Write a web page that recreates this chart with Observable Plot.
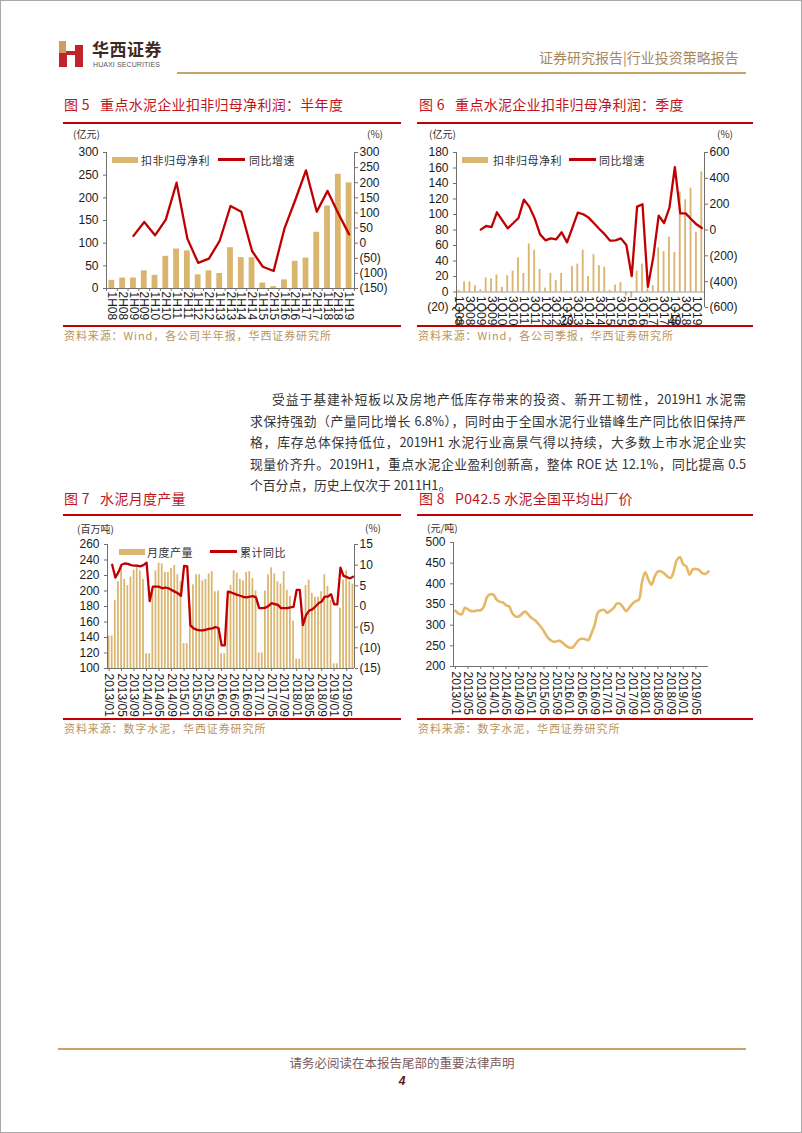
<!DOCTYPE html>
<html><head><meta charset="utf-8">
<script src="https://cdn.jsdelivr.net/npm/d3@7"></script>
<script src="https://cdn.jsdelivr.net/npm/@observablehq/plot@0.6"></script>
<style>
html,body{margin:0;padding:0;background:#fff;}
#page{position:relative;width:802px;height:1133px;overflow:hidden;font-family:"Noto Sans CJK SC","Noto Sans",sans-serif;box-sizing:border-box;border:1px solid #a8a8a8;}
.abs{position:absolute;white-space:nowrap;line-height:1;}
.title{color:#c0141c;font-size:14px;letter-spacing:0.3px;}
.rrule{position:absolute;height:2px;background:#c00000;}
.src{color:#b99460;font-size:11px;letter-spacing:0.9px;}
.unit{font-size:10px;color:#333;}
.leg{font-size:11px;color:#333;letter-spacing:0.5px;}
.chart{position:absolute;}
.para{position:absolute;left:249px;width:496px;font-size:12.8px;color:#333;line-height:16px;text-align:justify;text-align-last:justify;white-space:nowrap;}
.swb{position:absolute;height:6px;width:26px;background:#d9b56f;}
.swl{position:absolute;height:3px;width:27px;background:#c00000;}
</style></head>
<body>
<div id="page">
  <!-- header -->
  <svg class="abs" style="left:57px;top:38px" width="28" height="30">
    <rect x="1" y="2" width="7" height="12" fill="#c9a062"/>
    <rect x="1" y="14" width="8" height="14" fill="#c0232b"/>
    <rect x="8" y="12" width="10" height="4" fill="#c0232b"/>
    <rect x="17" y="6" width="8" height="22" fill="#c0232b"/>
  </svg>
  <div class="abs" style="left:91px;top:39px;font-size:17px;font-weight:700;color:#3d2a22;letter-spacing:0.5px">华西证券</div>
  <div class="abs" style="left:92px;top:60px;font-size:7px;color:#555;letter-spacing:0.1px;font-family:'Liberation Sans',Arial,sans-serif">HUAXI SECURITIES</div>
  <div class="abs" style="left:538px;top:49px;font-size:14px;color:#a8875a">证券研究报告|行业投资策略报告</div>
  <div class="abs" style="left:176px;top:71px;width:569px;height:2px;background:#c9a26a"></div>

  <!-- chart 5 -->
  <div class="abs title" style="left:63px;top:96px">图 5 &nbsp;&nbsp;重点水泥企业扣非归母净利润：半年度</div>
  <div class="rrule" style="left:62px;top:121px;width:338px"></div>
  <div class="abs unit" style="left:72px;top:128px">(亿元)</div>
  <div class="abs unit" style="left:366px;top:128px">(%)</div>
  <div id="c5" class="chart" style="left:55px;top:140px"></div>
  <div class="swb" style="left:111px;top:156px"></div>
  <div class="abs leg" style="left:140px;top:154px">扣非归母净利</div>
  <div class="swl" style="left:217px;top:157px"></div>
  <div class="abs leg" style="left:248px;top:154px">同比增速</div>
  <div class="rrule" style="left:62px;top:324px;width:338px"></div>
  <div class="abs src" style="left:63px;top:329px">资料来源：Wind，各公司半年报，华西证券研究所</div>

  <!-- chart 6 -->
  <div class="abs title" style="left:418px;top:96px">图 6 &nbsp;&nbsp;重点水泥企业扣非归母净利润：季度</div>
  <div class="rrule" style="left:416px;top:121px;width:336px"></div>
  <div class="abs unit" style="left:428px;top:128px">(亿元)</div>
  <div class="abs unit" style="left:716px;top:128px">(%)</div>
  <div id="c6" class="chart" style="left:410px;top:140px"></div>
  <div class="swb" style="left:461px;top:156px"></div>
  <div class="abs leg" style="left:492px;top:154px">扣非归母净利</div>
  <div class="swl" style="left:568px;top:157px"></div>
  <div class="abs leg" style="left:598px;top:154px">同比增速</div>
  <div class="rrule" style="left:416px;top:324px;width:336px"></div>
  <div class="abs src" style="left:417px;top:329px">资料来源：Wind，各公司季报，华西证券研究所</div>

  <!-- paragraph -->
  <div class="para" style="top:390px;text-indent:22px">受益于基建补短板以及房地产低库存带来的投资、新开工韧性，2019H1 水泥需</div>
  <div class="para" style="top:412px">求保持强劲（产量同比增长 6.8%），同时由于全国水泥行业错峰生产同比依旧保持严</div>
  <div class="para" style="top:433px">格，库存总体保持低位，2019H1 水泥行业高景气得以持续，大多数上市水泥企业实</div>
  <div class="para" style="top:455px">现量价齐升。2019H1，重点水泥企业盈利创新高，整体 ROE 达 12.1%，同比提高 0.5</div>
  <div class="para" style="top:476px;text-align:left;text-align-last:left">个百分点，历史上仅次于 2011H1。</div>

  <!-- chart 7 -->
  <div class="abs title" style="left:63px;top:490px">图 7 &nbsp;&nbsp;水泥月度产量</div>
  <div class="rrule" style="left:62px;top:513px;width:338px"></div>
  <div class="abs unit" style="left:76px;top:523px">(百万吨)</div>
  <div class="abs unit" style="left:364px;top:522px">(%)</div>
  <div id="c7" class="chart" style="left:55px;top:530px"></div>
  <div class="swb" style="left:118px;top:548px"></div>
  <div class="abs leg" style="left:146px;top:546px">月度产量</div>
  <div class="swl" style="left:209px;top:549px"></div>
  <div class="abs leg" style="left:239px;top:546px">累计同比</div>
  <div class="rrule" style="left:62px;top:717px;width:338px"></div>
  <div class="abs src" style="left:63px;top:722px">资料来源：数字水泥，华西证券研究所</div>

  <!-- chart 8 -->
  <div class="abs title" style="left:418px;top:490px">图 8 &nbsp;&nbsp;P042.5 水泥全国平均出厂价</div>
  <div class="rrule" style="left:416px;top:513px;width:336px"></div>
  <div class="abs unit" style="left:426px;top:522px">(元/吨)</div>
  <div id="c8" class="chart" style="left:410px;top:530px"></div>
  <div class="rrule" style="left:416px;top:717px;width:336px"></div>
  <div class="abs src" style="left:417px;top:722px">资料来源：数字水泥，华西证券研究所</div>

  <!-- footer -->
  <div class="abs" style="left:57px;top:1047px;width:688px;height:2px;background:#c9a26a"></div>
  <div class="abs" style="left:0;width:802px;top:1056px;text-align:center;font-size:12.5px;color:#7d5a5a">请务必阅读在本报告尾部的重要法律声明</div>
  <div class="abs" style="left:0;width:802px;top:1074px;text-align:center;font-size:12px;font-weight:700;font-style:italic;color:#5a1515;font-family:'Liberation Sans',Arial,sans-serif">4</div>
</div>

<script>
// ---------------- data ----------------
const halfCats = ["1H08","2H08","1H09","2H09","1H10","2H10","1H11","2H11","1H12","2H12","1H13","2H13","1H14","2H14","1H15","2H15","1H16","2H16","1H17","2H17","1H18","2H18","1H19"];
const halfProfit = [18,23,23,39,29,71,87,83,30,39,33,90,68,68,12,4,19,60,67,124,182,252,233];
const halfYoY = [null,null,24,70,26,78,200,15,-65,-51,8,123,104,-26,-78,-92,48,142,241,104,173,98,29];
const halfLeftTicks = [0,50,100,150,200,250,300];
const halfRightTicks = [-150,-100,-50,0,50,100,150,200,250,300];

const quarterCats = ["1Q08","2Q08","3Q08","4Q08","1Q09","2Q09","3Q09","4Q09","1Q10","2Q10","3Q10","4Q10",
  "1Q11","2Q11","3Q11","4Q11","1Q12","2Q12","3Q12","4Q12","1Q13","2Q13","3Q13","4Q13",
  "1Q14","2Q14","3Q14","4Q14","1Q15","2Q15","3Q15","4Q15","1Q16","2Q16","3Q16","4Q16",
  "1Q17","2Q17","3Q17","4Q17","1Q18","2Q18","3Q18","4Q18","1Q19","2Q19"];
const quarterProfit = [2,13,13,8, 3,18,17,22, 6,21,27,44, 24,62,54,29, 5,24,15,24, 1,33,36,54,
  20,48,34,32, 2,9,12,-5, -8,27,36,4, 8,57,52,71, 51,129,119,134, 77,155];
const quarterYoY = [null,null,null,null, 3,31,23,137, 75,13,52,93, 235,181,90,-34, -80,-65,-72,-18, -96,18,134,122,
  96,52,8,-34, -83,-80,-65,-116, -357,181,199,-440, -210,111,54,173, 486,129,129,85, 44,15];
const quarterTickLabels = ["1Q08","3Q08","1Q09","3Q09","1Q10","3Q10","1Q11","3Q11","1Q12","3Q12","1Q13","3Q13",
  "1Q14","3Q14","1Q15","3Q15","1Q16","3Q16","1Q17","3Q17","1Q18","3Q18","1Q19"];
const quarterLeftTicks = [-20,0,20,40,60,80,100,120,140,160,180];
const quarterRightTicks = [-600,-400,-200,0,200,400,600];

const monthCats = [];
for (let yr = 2013; yr <= 2019; yr++) for (let m = 1; m <= 12; m++) monthCats.push(yr + "/" + String(m).padStart(2, "0"));
const monthTickLabels = ["2013/01","2013/05","2013/09","2014/01","2014/05","2014/09","2015/01","2015/05","2015/09",
  "2016/01","2016/05","2016/09","2017/01","2017/05","2017/09","2018/01","2018/05","2018/09","2019/01","2019/05"];

const cementOutput = [
  142,142,188,212,229,215,207,218,227,232,226,215,
  119,119,200,226,236,235,224,224,229,233,221,212,
  132,132,180,208,221,221,213,215,222,225,199,200,
  119,119,190,207,226,223,215,213,224,225,216,200,
  120,120,200,221,230,222,212,209,225,201,193,161,
  112,112,172,207,214,197,192,192,199,221,206,188,
  106,106,178,214,226,212,209];
const cementCumYoY = [
  null,10.1,7.0,8.3,10.1,10.4,10.3,10.0,9.9,9.9,9.7,10.0,
  10.6,1.3,4.8,4.8,4.8,4.4,4.6,4.4,4.0,3.6,3.2,2.6,
  9.8,9.7,-4.5,-5.3,-5.6,-5.8,-5.8,-5.6,-5.4,-5.3,-5.0,-5.2,
  -9.4,-9.4,3.6,3.4,3.1,2.8,2.6,2.3,2.2,2.4,2.5,2.2,
  -0.4,-0.4,-0.3,0.1,0.8,0.6,0.4,-0.4,-0.4,-0.4,-0.2,-0.1,
  4.0,4.0,-4.5,-2.1,-1.0,-0.7,0.0,0.8,1.2,2.4,2.4,3.0,
  0.5,0.5,9.4,7.4,7.1,6.8,7.2];
const outputLeftTicks = [100,120,140,160,180,200,220,240,260];
const outputRightTicks = [-15,-10,-5,0,5,10,15];

const cementPrice = [
  335,328,326,342,338,334,334,336,336,345,368,375,
  374,362,357,355,348,345,329,321,321,327,333,326,
  318,313,305,296,285,272,264,260,261,262,257,250,
  246,246,255,264,267,266,264,280,300,330,336,337,
  330,335,341,352,352,343,334,343,352,358,362,405,
  428,410,398,418,430,430,425,418,414,430,458,464,
  447,442,422,435,436,434,426,424,430];
const priceTicks = [200,250,300,350,400,450,500];

// ---------------- styles ----------------
const barColor = "#d9b56f";
const lineColor = "#c00000";
const priceColor = "#e6b866";
const axisColor = "#707070";
const plotStyle = {fontFamily: "'Liberation Sans', Arial, sans-serif", fontSize: "12px", color: "#1a1a1a", background: "transparent", overflow: "visible"};
const paren = v => v < 0 ? "(" + Math.abs(v) + ")" : String(v);

// ---------------- chart 5 ----------------
{
  const n = halfCats.length;
  const data = halfCats.map((c, i) => ({i, c, v: halfProfit[i], r: halfYoY[i]}));
  const [l0, l1] = [halfLeftTicks[0], halfLeftTicks[halfLeftTicks.length - 1]];
  const [r0, r1] = [halfRightTicks[0], halfRightTicks[halfRightTicks.length - 1]];
  const fwd = r => l0 + (r - r0) * (l1 - l0) / (r1 - r0);
  const inv = y => r0 + (y - l0) * (r1 - r0) / (l1 - l0);
  const chart = Plot.plot({
    width: 345, height: 190, marginLeft: 50, marginRight: 47, marginTop: 11, marginBottom: 43,
    style: plotStyle,
    x: {domain: [-0.5, n - 0.5], label: null},
    y: {domain: [l0, l1], label: null},
    marks: [
      Plot.rectY(data, {x1: d => d.i - 0.27, x2: d => d.i + 0.27, y: "v", fill: barColor}),
      Plot.line(data.filter(d => d.r != null), {x: "i", y: d => fwd(d.r), stroke: lineColor, strokeWidth: 2.3}),
      Plot.ruleX([-0.5], {stroke: axisColor}),
      Plot.ruleX([n - 0.5], {stroke: axisColor}),
      Plot.ruleY([l0], {stroke: axisColor}),
      Plot.axisY({ticks: halfLeftTicks, anchor: "left", tickSize: 3, tickPadding: 5, tickFormat: paren, label: null, stroke: axisColor}),
      Plot.axisY({ticks: halfRightTicks.map(fwd), anchor: "right", tickSize: 3, tickPadding: 2, tickFormat: y => paren(Math.round(inv(y))), label: null, stroke: axisColor}),
      Plot.axisX({ticks: data.map(d => d.i), anchor: "bottom", tickRotate: 90, tickSize: 0, tickPadding: 3, tickFormat: i => halfCats[i], label: null}),
      Plot.axisX({ticks: d3.range(n + 1).map(k => k - 0.5), anchor: "bottom", tickSize: 3, tickFormat: () => "", label: null, stroke: axisColor})
    ]
  });
  document.getElementById("c5").append(chart);
}

// ---------------- chart 6 ----------------
{
  const n = quarterCats.length;
  const data = quarterCats.map((c, i) => ({i, c, v: quarterProfit[i], r: quarterYoY[i]}));
  const [l0, l1] = [quarterLeftTicks[0], quarterLeftTicks[quarterLeftTicks.length - 1]];
  const [r0, r1] = [quarterRightTicks[0], quarterRightTicks[quarterRightTicks.length - 1]];
  const fwd = r => l0 + (r - r0) * (l1 - l0) / (r1 - r0);
  const inv = y => r0 + (y - l0) * (r1 - r0) / (l1 - l0);
  const tickIdx = quarterTickLabels.map(t => quarterCats.indexOf(t));
  const chart = Plot.plot({
    width: 345, height: 190, marginLeft: 45, marginRight: 52, marginTop: 11, marginBottom: 24,
    style: plotStyle,
    x: {domain: [-0.5, n - 0.5], label: null},
    y: {domain: [l0, l1], label: null},
    marks: [
      Plot.rectY(data, {x1: d => d.i - 0.17, x2: d => d.i + 0.17, y: "v", fill: barColor}),
      Plot.ruleY([0], {stroke: "#999"}),
      Plot.line(data.filter(d => d.r != null), {x: "i", y: d => fwd(d.r), stroke: lineColor, strokeWidth: 2.3}),
      Plot.ruleX([-0.5], {stroke: axisColor}),
      Plot.ruleX([n - 0.5], {stroke: axisColor}),
      Plot.axisY({ticks: quarterLeftTicks, anchor: "left", tickSize: 3, tickPadding: 5, tickFormat: paren, label: null, stroke: axisColor}),
      Plot.axisY({ticks: quarterRightTicks.map(fwd), anchor: "right", tickSize: 3, tickPadding: 2, tickFormat: y => paren(Math.round(inv(y))), label: null, stroke: axisColor}),
      Plot.text(tickIdx, {x: d => d, y: 0, text: d => quarterCats[d], rotate: 90, textAnchor: "start", dy: 4, fill: "#1a1a1a", fontSize: 12})
    ]
  });
  document.getElementById("c6").append(chart);
}

// ---------------- chart 7 ----------------
{
  const n = cementOutput.length;
  const data = cementOutput.map((v, i) => ({i, c: monthCats[i], v, r: cementCumYoY[i]}));
  const [l0, l1] = [outputLeftTicks[0], outputLeftTicks[outputLeftTicks.length - 1]];
  const [r0, r1] = [outputRightTicks[0], outputRightTicks[outputRightTicks.length - 1]];
  const fwd = r => l0 + (r - r0) * (l1 - l0) / (r1 - r0);
  const inv = y => r0 + (y - l0) * (r1 - r0) / (l1 - l0);
  const tickIdx = monthTickLabels.map(t => monthCats.indexOf(t));
  const chart = Plot.plot({
    width: 345, height: 190, marginLeft: 51, marginRight: 47, marginTop: 13, marginBottom: 53,
    style: plotStyle,
    x: {domain: [-0.5, n - 0.5], label: null},
    y: {domain: [l0, l1], label: null},
    marks: [
      Plot.rectY(data, {x1: d => d.i - 0.28, x2: d => d.i + 0.28, y1: l0, y2: "v", fill: barColor}),
      Plot.line(data.filter(d => d.r != null), {x: "i", y: d => fwd(d.r), stroke: lineColor, strokeWidth: 2.3}),
      Plot.ruleX([-0.5], {stroke: axisColor}),
      Plot.ruleX([n - 0.5], {stroke: axisColor}),
      Plot.ruleY([l0], {stroke: axisColor}),
      Plot.axisY({ticks: outputLeftTicks, anchor: "left", tickSize: 3, tickPadding: 5, tickFormat: paren, label: null, stroke: axisColor}),
      Plot.axisY({ticks: outputRightTicks.map(fwd), anchor: "right", tickSize: 3, tickPadding: 2, tickFormat: y => paren(Math.round(inv(y))), label: null, stroke: axisColor}),
      Plot.axisX({ticks: tickIdx, anchor: "bottom", tickRotate: 90, tickSize: 3, tickPadding: 2, tickFormat: i => monthCats[i], label: null, stroke: axisColor})
    ]
  });
  document.getElementById("c7").append(chart);
}

// ---------------- chart 8 ----------------
{
  const n = cementPrice.length;
  const data = cementPrice.map((p, i) => ({i, c: monthCats[i], p}));
  const [l0, l1] = [priceTicks[0], priceTicks[priceTicks.length - 1]];
  const tickIdx = monthTickLabels.map(t => monthCats.indexOf(t));
  const chart = Plot.plot({
    width: 345, height: 190, marginLeft: 42, marginRight: 48, marginTop: 11, marginBottom: 55,
    style: plotStyle,
    x: {domain: [-0.6, n - 1], label: null},
    y: {domain: [l0, l1], label: null},
    marks: [
      Plot.ruleX([-0.6], {stroke: axisColor}),
      Plot.ruleY([l0], {stroke: axisColor}),
      Plot.line(data, {x: "i", y: "p", curve: "catmull-rom", stroke: priceColor, strokeWidth: 2.6}),
      Plot.axisY({ticks: priceTicks, anchor: "left", tickSize: 3, tickPadding: 5, label: null, stroke: axisColor}),
      Plot.axisX({ticks: tickIdx, anchor: "bottom", tickRotate: 90, tickSize: 3, tickPadding: 2, tickFormat: i => monthCats[i], label: null, stroke: axisColor})
    ]
  });
  document.getElementById("c8").append(chart);
}
</script>
</body></html>
